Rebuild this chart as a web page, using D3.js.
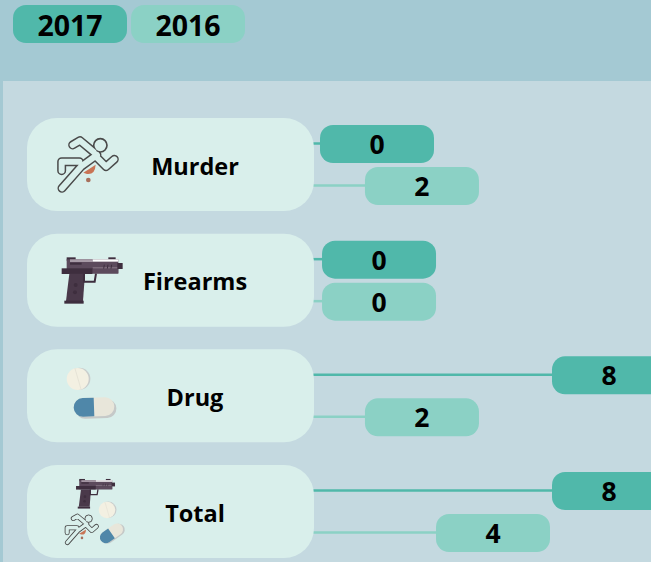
<!DOCTYPE html>
<html><head><meta charset="utf-8">
<script src="https://cdn.jsdelivr.net/npm/d3@7"></script>
<style>html,body{margin:0;padding:0;background:#a4c9d3;overflow:hidden}svg{display:block}text{font-family:"Open Sans",sans-serif;font-weight:700;fill:#000}</style>
</head><body><script>
const categories = ["Murder", "Firearms", "Drug", "Total"];
const seriesNames = ["2017", "2016"];
const values2017 = [0, 0.07, 8, 8];
const values2016 = [1.55, 0.07, 1.55, 4];
const seriesColors = ["#50b8aa", "#8bd1c5"];
const W = 651, H = 562, cardColor = "#d9efeb";

const svg = d3.select("body").append("svg").attr("width", W).attr("height", H);
const defs = svg.append("defs");

// Icons, drawn at 3x in their own local frame
const gun = defs.append("g").attr("id", "gun");
const dark = "#3e2e3e", mid = "#5c4a5c";
const rect = (g, x0, y0, x1, y1, c) => g.append("rect").attr("x", x0).attr("y", y0).attr("width", x1 - x0).attr("height", y1 - y0).attr("fill", c);
rect(gun, 110, 82, 137, 92, dark); rect(gun, 235, 82, 257, 92, dark);
rect(gun, 110, 88, 265, 130, mid);
rect(gun, 120, 88, 188, 96, "#a79aa6"); rect(gun, 188, 88, 265, 95, "#ffffff");
rect(gun, 120, 98, 155, 104, dark);
rect(gun, 188, 112, 265, 115, "#8a7a88");
rect(gun, 262, 99, 278, 117, dark);
rect(gun, 95, 115, 188, 132, dark); rect(gun, 188, 117, 265, 131, mid);
gun.append("path").attr("d", "M118 131L165 131L159 213L108 213Z").attr("fill", "#4a394a");
rect(gun, 103, 212, 161, 221, dark);
gun.append("path").attr("d", "M162 131V155H194L198 131").attr("fill", "none").attr("stroke", dark).attr("stroke-width", 6);
gun.append("circle").attr("cx", 137).attr("cy", 165).attr("r", 6).attr("fill", dark);
gun.append("circle").attr("cx", 135).attr("cy", 187).attr("r", 6).attr("fill", dark);
gun.append("path").attr("d", "M223 104L221 116M234 104L232 116M245 104L243 116").attr("stroke", dark).attr("stroke-width", 3);

const runner = defs.append("g").attr("id", "runner");
const limbs = "M215 435L237 422L278 456M340 478L315 500L285 470M183 565L240 500L288 465M182 512L182 485L235 485";
runner.append("path").attr("d", limbs).attr("fill", "none").attr("stroke", "#4a4a4a").attr("stroke-width", 27).attr("stroke-linecap", "round").attr("stroke-linejoin", "round");
runner.append("circle").attr("cx", 298).attr("cy", 436).attr("r", 20).attr("fill", cardColor).attr("stroke", "#4a4a4a").attr("stroke-width", 5);
runner.append("path").attr("d", limbs).attr("fill", "none").attr("stroke", cardColor).attr("stroke-width", 18).attr("stroke-linecap", "round").attr("stroke-linejoin", "round");
runner.append("path").attr("d", "M247 518L284 494Q282 525 258 522Z").attr("fill", "#c97455");
runner.append("circle").attr("cx", 262).attr("cy", 540).attr("r", 7).attr("fill", "#a8705c");

const tablet = defs.append("g").attr("id", "tablet");
tablet.append("circle").attr("cx", 5).attr("cy", -1).attr("r", 33).attr("fill", "#c9cdcc");
tablet.append("circle").attr("r", 33).attr("fill", "#f3f0e2");
tablet.append("path").attr("d", "M-8 -31L10 31").attr("stroke", "#e0ddd0").attr("stroke-width", 2);

const capsule = defs.append("g").attr("id", "capsule");
capsule.append("rect").attr("x", -58).attr("y", -22).attr("width", 122).attr("height", 56).attr("rx", 28).attr("fill", "#c5c9c8");
capsule.append("rect").attr("x", -64).attr("y", -28).attr("width", 122).attr("height", 56).attr("rx", 28).attr("fill", "#e8e6da");
capsule.append("path").attr("d", "M-3 -28H-36A28 28 0 0 0 -36 28H-3Z").attr("fill", "#4f87a9");

const use = (parent, id, transform) => parent.append("use").attr("href", "#" + id).attr("transform", transform);

// Background panel
svg.append("rect").attr("x", 3).attr("y", 81).attr("width", W - 3).attr("height", H - 81).attr("fill", "#c4d9e0");

// Legend
const legendX = d3.scalePoint().domain(seriesNames).range([13, 131]);
const legend = svg.selectAll(".lg").data(seriesNames).join("g").attr("transform", d => `translate(${legendX(d)},5)`);
legend.append("rect").attr("width", 114).attr("height", 38).attr("rx", 13).attr("fill", (d, i) => seriesColors[i]);
legend.append("text").attr("x", 57).attr("y", 31).attr("text-anchor", "middle").attr("font-size", 28.5).text(d => d);

// Scales
const rowY = d3.scalePoint().domain(categories).range([118, 465]);
const x = d3.scaleLinear().domain([0, 8]).range([320, 552]);
const fmt = d3.format(".0f");
const offsets = [26, 68];
const pillW = 114, pillH = 38;

const rows = svg.selectAll(".row").data(categories).join("g").attr("transform", d => `translate(0,${rowY(d)})`);
rows.each(function (cat, i) {
  const g = d3.select(this);
  [values2017[i], values2016[i]].forEach((v, s) => {
    g.append("line").attr("x1", 300).attr("x2", x(v) + 4).attr("y1", offsets[s] - 0.5).attr("y2", offsets[s] - 0.5)
      .attr("stroke", seriesColors[s]).attr("stroke-width", 2.5);
    g.append("rect").attr("x", x(v)).attr("y", offsets[s] - pillH / 2).attr("width", pillW).attr("height", pillH)
      .attr("rx", 13).attr("fill", seriesColors[s]);
    g.append("text").attr("x", x(v) + pillW / 2).attr("y", offsets[s] + 10).attr("text-anchor", "middle")
      .attr("font-size", 26.5).text(fmt(v));
  });
  g.append("rect").attr("x", 27).attr("y", 0).attr("width", 287).attr("height", 93).attr("rx", 30).attr("fill", cardColor);
  g.append("text").attr("x", 195).attr("y", 56.5).attr("text-anchor", "middle").attr("font-size", 23.5).text(cat);
});

// Icons
const icons = svg.append("g");
use(icons, "runner", "translate(1,0) scale(0.3333)");
use(icons, "gun", "translate(30,230) scale(0.3333)");
use(icons, "tablet", "translate(77.7,379) scale(0.3333)");
use(icons, "capsule", "translate(95,407) rotate(-2) scale(0.3333)");
use(icons, "gun", "translate(55.8,461.5) scale(0.213)");
use(icons, "runner", "translate(33.5,438) scale(0.185)");
use(icons, "tablet", "translate(107,510) scale(0.25)");
use(icons, "capsule", "translate(112,533) rotate(-35) scale(0.21)");
</script></body></html>
